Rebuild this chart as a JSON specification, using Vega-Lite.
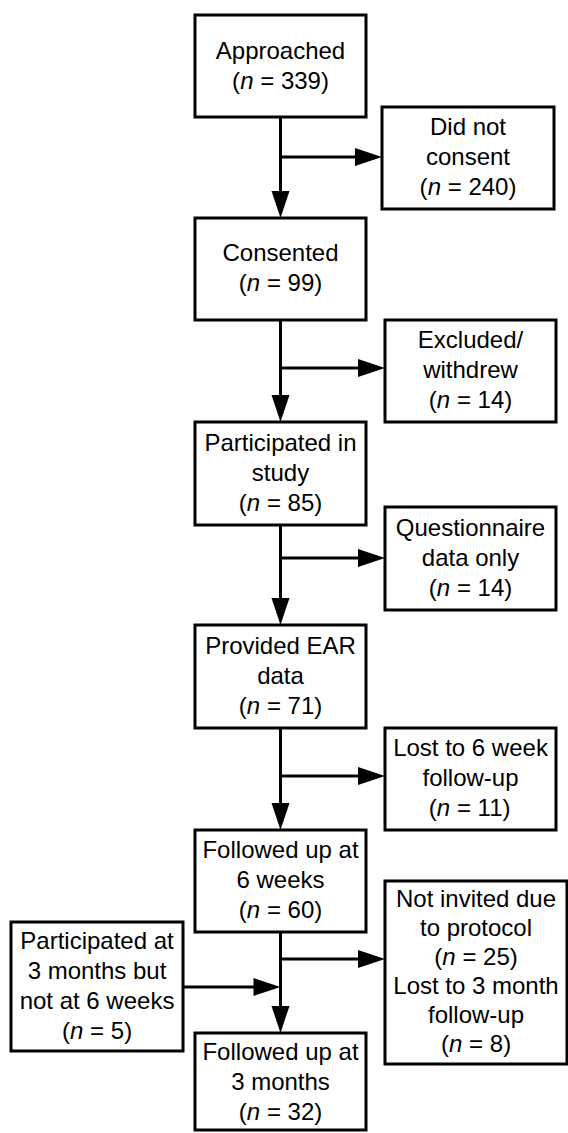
{
  "$schema": "https://vega.github.io/schema/vega-lite/v6.json",
  "width": 568,
  "height": 1133,
  "padding": 0,
  "autosize": "none",
  "background": "white",
  "config": {"view": {"stroke": null}},
  "datasets": {
    "boxes": [
      {"bx1": 195, "bx2": 366, "by1": 15, "by2": 117},
      {"bx1": 382, "bx2": 554, "by1": 107, "by2": 209},
      {"bx1": 195, "bx2": 366, "by1": 218, "by2": 320},
      {"bx1": 385, "bx2": 556, "by1": 320, "by2": 422},
      {"bx1": 195, "bx2": 366, "by1": 422, "by2": 525},
      {"bx1": 385, "bx2": 556, "by1": 507, "by2": 610},
      {"bx1": 195, "bx2": 366, "by1": 625, "by2": 728},
      {"bx1": 385, "bx2": 556, "by1": 728, "by2": 830},
      {"bx1": 195, "bx2": 366, "by1": 830, "by2": 932},
      {"bx1": 11, "bx2": 183, "by1": 922, "by2": 1051},
      {"bx1": 385, "bx2": 567, "by1": 881, "by2": 1064},
      {"bx1": 195, "bx2": 366, "by1": 1033, "by2": 1130}
    ],
    "lines": [
      {"lx1": 280.5, "lx2": 280.5, "ly1": 117, "ly2": 206},
      {"lx1": 280.5, "lx2": 280.5, "ly1": 320, "ly2": 410},
      {"lx1": 280.5, "lx2": 280.5, "ly1": 525, "ly2": 613},
      {"lx1": 280.5, "lx2": 280.5, "ly1": 728, "ly2": 818},
      {"lx1": 280.5, "lx2": 280.5, "ly1": 932, "ly2": 1021},
      {"lx1": 280.5, "lx2": 370, "ly1": 157, "ly2": 157},
      {"lx1": 280.5, "lx2": 373, "ly1": 368, "ly2": 368},
      {"lx1": 280.5, "lx2": 373, "ly1": 558, "ly2": 558},
      {"lx1": 280.5, "lx2": 373, "ly1": 776, "ly2": 776},
      {"lx1": 280.5, "lx2": 373, "ly1": 959, "ly2": 959},
      {"lx1": 183, "lx2": 268, "ly1": 987, "ly2": 987}
    ],
    "heads": [
      {"ax": 280.5, "ay": 204.5, "dir": "down"},
      {"ax": 280.5, "ay": 408.5, "dir": "down"},
      {"ax": 280.5, "ay": 611.5, "dir": "down"},
      {"ax": 280.5, "ay": 816.5, "dir": "down"},
      {"ax": 280.5, "ay": 1019.5, "dir": "down"},
      {"ax": 368.5, "ay": 157, "dir": "right"},
      {"ax": 371.5, "ay": 368, "dir": "right"},
      {"ax": 371.5, "ay": 558, "dir": "right"},
      {"ax": 371.5, "ay": 776, "dir": "right"},
      {"ax": 371.5, "ay": 959, "dir": "right"},
      {"ax": 267, "ay": 987, "dir": "right"}
    ],
    "labels": [
      {"tx": 280.5, "ty": 52, "t": "Approached"},
      {"tx": 468, "ty": 128, "t": "Did not"},
      {"tx": 468, "ty": 158, "t": "consent"},
      {"tx": 280.5, "ty": 254, "t": "Consented"},
      {"tx": 470.5, "ty": 341, "t": "Excluded/"},
      {"tx": 470.5, "ty": 371, "t": "withdrew"},
      {"tx": 280.5, "ty": 443.5, "t": "Participated in"},
      {"tx": 280.5, "ty": 473.5, "t": "study"},
      {"tx": 470.5, "ty": 528.5, "t": "Questionnaire"},
      {"tx": 470.5, "ty": 558.5, "t": "data only"},
      {"tx": 280.5, "ty": 646.5, "t": "Provided EAR"},
      {"tx": 280.5, "ty": 676.5, "t": "data"},
      {"tx": 470.5, "ty": 749, "t": "Lost to 6 week"},
      {"tx": 470.5, "ty": 779, "t": "follow-up"},
      {"tx": 280.5, "ty": 851, "t": "Followed up at"},
      {"tx": 280.5, "ty": 881, "t": "6 weeks"},
      {"tx": 97, "ty": 941.5, "t": "Participated at"},
      {"tx": 97, "ty": 971.5, "t": "3 months but"},
      {"tx": 97, "ty": 1001.5, "t": "not at 6 weeks"},
      {"tx": 476, "ty": 900, "t": "Not invited due"},
      {"tx": 476, "ty": 929, "t": "to protocol"},
      {"tx": 476, "ty": 987, "t": "Lost to 3 month"},
      {"tx": 476, "ty": 1016, "t": "follow-up"},
      {"tx": 280.5, "ty": 1053, "t": "Followed up at"},
      {"tx": 280.5, "ty": 1083, "t": "3 months"}
    ],
    "counts": [
      {"nx": 246.8, "ny": 82, "post": "= 339)"},
      {"nx": 434.3, "ny": 188, "post": "= 240)"},
      {"nx": 253.5, "ny": 284, "post": "= 99)"},
      {"nx": 443.5, "ny": 401, "post": "= 14)"},
      {"nx": 253.5, "ny": 503.5, "post": "= 85)"},
      {"nx": 443.5, "ny": 588.5, "post": "= 14)"},
      {"nx": 253.5, "ny": 706.5, "post": "= 71)"},
      {"nx": 443.5, "ny": 809, "post": "= 11)"},
      {"nx": 253.5, "ny": 911, "post": "= 60)"},
      {"nx": 76.7, "ny": 1031.5, "post": "= 5)"},
      {"nx": 449, "ny": 958, "post": "= 25)"},
      {"nx": 455.7, "ny": 1045, "post": "= 8)"},
      {"nx": 253.5, "ny": 1113, "post": "= 32)"}
    ]
  },
  "layer": [
    {
      "data": {"name": "boxes"},
      "mark": {"type": "rect", "fill": "white", "stroke": "black", "strokeWidth": 3},
      "encoding": {
        "x": {"field": "bx1", "type": "quantitative", "axis": null, "scale": {"domain": [0, 568], "nice": false, "zero": false}},
        "x2": {"field": "bx2"},
        "y": {"field": "by1", "type": "quantitative", "axis": null, "scale": {"domain": [0, 1133], "nice": false, "zero": false, "reverse": true}},
        "y2": {"field": "by2"}
      }
    },
    {
      "data": {"name": "lines"},
      "mark": {"type": "rule", "stroke": "black", "strokeWidth": 3},
      "encoding": {
        "x": {"field": "lx1", "type": "quantitative", "axis": null},
        "x2": {"field": "lx2"},
        "y": {"field": "ly1", "type": "quantitative", "axis": null},
        "y2": {"field": "ly2"}
      }
    },
    {
      "data": {"name": "heads"},
      "mark": {"type": "point", "filled": true, "color": "black", "opacity": 1, "size": 729},
      "encoding": {
        "x": {"field": "ax", "type": "quantitative", "axis": null},
        "y": {"field": "ay", "type": "quantitative", "axis": null},
        "shape": {"field": "dir", "type": "nominal", "legend": null,
          "scale": {"domain": ["down", "right"], "range": ["M-0.667,-1L0.667,-1L0,1Z", "M-1,-0.667L-1,0.667L1,0Z"]}}
      }
    },
    {
      "data": {"name": "labels"},
      "mark": {"type": "text", "font": "Liberation Sans", "fontSize": 24, "align": "center", "baseline": "middle", "color": "black"},
      "encoding": {
        "x": {"field": "tx", "type": "quantitative", "axis": null},
        "y": {"field": "ty", "type": "quantitative", "axis": null},
        "text": {"field": "t"}
      }
    },
    {
      "data": {"name": "counts"},
      "mark": {"type": "text", "text": "(", "font": "Liberation Sans", "fontSize": 24, "align": "right", "baseline": "middle", "dx": -6.7, "color": "black"},
      "encoding": {
        "x": {"field": "nx", "type": "quantitative", "axis": null},
        "y": {"field": "ny", "type": "quantitative", "axis": null}
      }
    },
    {
      "data": {"name": "counts"},
      "mark": {"type": "text", "text": "n", "font": "Liberation Sans", "fontSize": 24, "fontStyle": "italic", "align": "center", "baseline": "middle", "color": "black"},
      "encoding": {
        "x": {"field": "nx", "type": "quantitative", "axis": null},
        "y": {"field": "ny", "type": "quantitative", "axis": null}
      }
    },
    {
      "data": {"name": "counts"},
      "mark": {"type": "text", "font": "Liberation Sans", "fontSize": 24, "align": "left", "baseline": "middle", "dx": 13.4, "color": "black"},
      "encoding": {
        "x": {"field": "nx", "type": "quantitative", "axis": null},
        "y": {"field": "ny", "type": "quantitative", "axis": null},
        "text": {"field": "post"}
      }
    }
  ]
}
